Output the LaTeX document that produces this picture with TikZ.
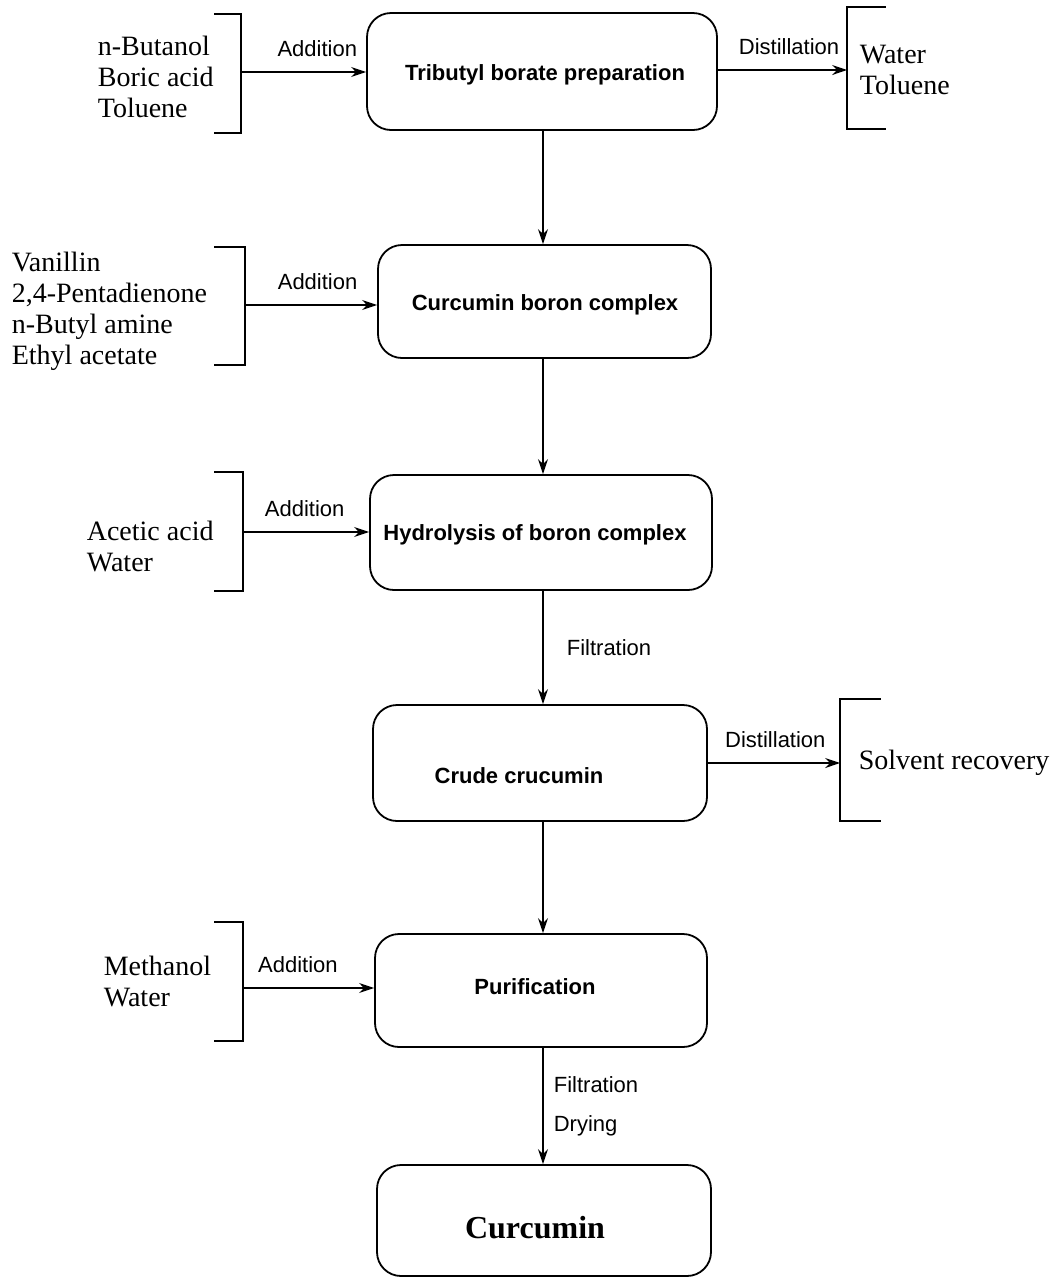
\documentclass[tikz,border=0pt]{standalone}
\usepackage{fontspec}
\setmainfont{Liberation Serif}
\setsansfont{Liberation Sans}
\usetikzlibrary{arrows.meta, positioning}

\tikzset{
  stage/.style={draw, rounded corners=24pt, line width=1.8pt, inner sep=0pt},
  stagetext/.style={inner sep=0pt, font=\sffamily\bfseries\fontsize{22}{26}\selectfont},
  feed/.style={align=left, inner sep=0pt, font=\rmfamily\fontsize{28}{31}\selectfont},
  tag/.style={inner sep=2pt, font=\sffamily\fontsize{22}{26}\selectfont},
  bracket/.style={inner sep=0pt},
}

\begin{document}
\begin{tikzpicture}[x=1pt, y=-1pt, >={Stealth[length=15pt,width=10pt]}, line width=1.7pt]
    \useasboundingbox (0,0) rectangle (1052,1278);
    \coordinate (spine) at (543,0);

    % process stages
    \node[stage, minimum width=350pt, minimum height=117pt] (prep)    at (542,71.5)   {};
    \node[stage, minimum width=333pt, minimum height=113pt] (complex) at (544.5,301.5) {};
    \node[stage, minimum width=342pt, minimum height=115pt] (hydro)   at (541,532.5)  {};
    \node[stage, minimum width=334pt, minimum height=116pt] (crude)   at (540,763)    {};
    \node[stage, minimum width=332pt, minimum height=113pt] (purif)   at (541,990.5)  {};
    \node[stage, minimum width=334pt, minimum height=111pt] (final)   at (544,1220.5) {};

    \node[stagetext] (preptext)    at (545,75)   {Tributyl borate preparation};
    \node[stagetext] (complextext) at (545,305)  {Curcumin boron complex};
    \node[stagetext] (hydrotext)   at (535,535)  {Hydrolysis of boron complex};
    \node[stagetext] (crudetext)   at (519,776)  {Crude crucumin};
    \node[stagetext] (puriftext)   at (535,987)  {Purification};
    \node[stagetext, font=\rmfamily\bfseries\fontsize{32}{36}\selectfont] (finaltext) at (535,1228) {Curcumin};

    % main line
    \draw[->] (prep.south -| spine)    -- (complex.north -| spine);
    \draw[->] (complex.south -| spine) -- (hydro.north -| spine);
    \draw[->] (hydro.south -| spine)   -- node[tag, right=21pt] {Filtration} (crude.north -| spine);
    \draw[->] (crude.south -| spine)   -- (purif.north -| spine);
    \draw[->] (purif.south -| spine)   -- node[tag, right=8pt, align=left,
          font=\sffamily\fontsize{22}{39}\selectfont] {Filtration\\Drying} (final.north -| spine);

    % feeds on the left
    \node[bracket, minimum width=25pt, minimum height=117pt] (lb1) at (227.5,73.5) {};
    \node[bracket, minimum width=29pt, minimum height=116pt] (lb2) at (229.5,306) {};
    \node[bracket, minimum width=27pt, minimum height=117pt] (lb3) at (228.5,531.5) {};
    \node[bracket, minimum width=27pt, minimum height=117pt] (lb4) at (228.5,981.5) {};
    \foreach \b in {lb1, lb2, lb3, lb4}
      \draw (\b.north west) -- (\b.north east) -- (\b.south east) -- (\b.south west);

    \node[feed, anchor=west] (in1) at (97,76.5)  {n-Butanol\\Boric acid\\Toluene};
    \node[feed, anchor=west] (in2) at (11,311.5) {Vanillin\\2,4-Pentadienone\\n-Butyl amine\\Ethyl acetate};
    \node[feed, anchor=west] (in3) at (86,546)   {Acetic acid\\Water};
    \node[feed, anchor=west] (in4) at (103,981)  {Methanol\\Water};

    \draw[->] (lb1.east |- 0,72)  -- node[tag, above=12pt, pos=.61] {Addition} (prep.west |- 0,72);
    \draw[->] (lb2.east |- 0,305) -- node[tag, above=12pt, pos=.55] {Addition} (complex.west |- 0,305);
    \draw[->] (lb3.east |- 0,532) -- node[tag, above=12pt, pos=.49] {Addition} (hydro.west |- 0,532);
    \draw[->] (lb4.east |- 0,988) -- node[tag, above=12pt, pos=.42] {Addition} (purif.west |- 0,988);

    % products on the right
    \node[bracket, minimum width=37pt, minimum height=120pt] (rb1) at (866.5,68) {};
    \node[bracket, minimum width=39pt, minimum height=120pt] (rb2) at (860.5,760) {};
    \foreach \b in {rb1, rb2}
      \draw (\b.north east) -- (\b.north west) -- (\b.south west) -- (\b.south east);

    \node[feed, anchor=west] (out1) at (859,69.5) {Water\\Toluene};
    \node[feed, anchor=west] (out2) at (858,763)  {Solvent recovery};

    \draw[->] (prep.east |- 0,70)   -- node[tag, above=12pt, pos=.55] {Distillation} (rb1.west |- 0,70);
    \draw[->] (crude.east |- 0,763) -- node[tag, above=12pt, pos=.51] {Distillation} (rb2.west |- 0,763);
\end{tikzpicture}
\end{document}
